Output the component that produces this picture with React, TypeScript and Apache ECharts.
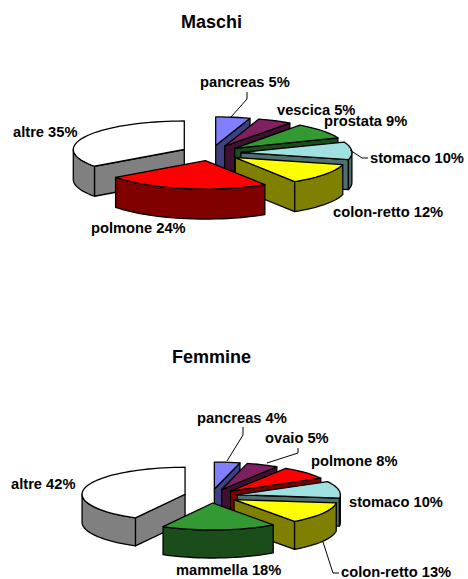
import React, { useEffect, useRef } from "react";
import * as echarts from "echarts";

const maleNames = ["pancreas", "vescica", "prostata", "stomaco", "colon-retto", "polmone", "altre"];
const maleValues = [5, 5, 9, 10, 12, 24, 35];
const femaleNames = ["pancreas", "ovaio", "polmone", "stomaco", "colon-retto", "mammella", "altre"];
const femaleValues = [4, 5, 8, 10, 13, 18, 42];

const maleTop = ["#8080FF", "#802060", "#339933", "#A0E0E0", "#FFFF00", "#FF0000", "#FFFFFF"];
const maleSide = ["#404080", "#401030", "#1A4D1A", "#507070", "#808000", "#800000", "#808080"];
const femaleTop = ["#8080FF", "#802060", "#FF0000", "#A0E0E0", "#FFFF00", "#339933", "#FFFFFF"];
const femaleSide = ["#404080", "#401030", "#800000", "#507070", "#808000", "#1A4D1A", "#808080"];

const maleGeom = { cx: 211, cy: 153, rx: 111, ry: 28.5, depth: 30, explode: 0.27 };
const femaleGeom = { cx: 211, cy: 496, rx: 103, ry: 27, depth: 28, explode: 0.26 };

const maleLabelPos = [[200, 82], [277, 110], [324, 121], [370, 158], [333, 212], [91, 228], [13, 132]];
const femaleLabelPos = [[197, 418], [265, 438], [311, 461], [349, 502], [341, 572], [176, 570], [11, 484]];

const maleLeaders = [
  [[247, 92], [247, 99], [231, 117]],
  [[350, 150], [362, 158], [368, 158]],
];
const femaleLeaders = [
  [[243, 427], [243, 435], [227, 461]],
  [[298, 448], [298, 453], [267, 463]],
  [[323, 542], [333, 573], [339, 573]],
];

const FONT = "bold 14px 'Liberation Sans', Arial, sans-serif";
const LABEL_STRETCH = 1.05;
const rad = (d: number) => (d * Math.PI) / 180;

function buildSeries(names: string[], values: number[], top: string[], side: string[], g: any, labelPos: number[][], leaders: number[][][]) {
  const total = values.reduce((a, b) => a + b, 0);
  let acc = 0;
  const slices = values.map((v, i) => {
    const a = (acc / total) * 360;
    acc += v;
    const b = (acc / total) * 360;
    return { i, a, b, mid: (a + b) / 2 };
  });
  const order = [...slices].sort((p, q) => Math.cos(rad(q.mid)) - Math.cos(rad(p.mid)));

  const renderItem = (params: any, api: any) => {
    const idx = api.value(0) as number;
    const s = slices[idx];
    const ox = g.cx + g.explode * g.rx * Math.sin(rad(s.mid));
    const oy = g.cy - g.explode * g.ry * Math.cos(rad(s.mid));
    const pt = (t: number, dz = 0) => [ox + g.rx * Math.sin(rad(t)), oy - g.ry * Math.cos(rad(t)) + dz];
    const arc = (from: number, to: number, dz = 0) => {
      const out: number[][] = [];
      const n = Math.max(2, Math.ceil((to - from) / 3));
      for (let k = 0; k <= n; k++) out.push(pt(from + ((to - from) * k) / n, dz));
      return out;
    };
    const styleOf = (fill: string) => ({ fill, stroke: "#000", lineWidth: 1.3, lineJoin: "round" });
    const poly = (points: number[][], fill: string) => ({ type: "polygon", shape: { points }, style: styleOf(fill) });
    const children: any[] = [];
    if (Math.sin(rad(s.a)) < 0) {
      children.push(poly([[ox, oy], pt(s.a), pt(s.a, g.depth), [ox, oy + g.depth]], side[idx]));
    }
    if (Math.sin(rad(s.b)) > 0) {
      children.push(poly([[ox, oy], pt(s.b), pt(s.b, g.depth), [ox, oy + g.depth]], side[idx]));
    }
    const from = Math.max(s.a, 90);
    const to = Math.min(s.b, 270);
    if (to > from) {
      children.push(poly([...arc(from, to), ...arc(from, to, g.depth).reverse()], side[idx]));
    }
    children.push(poly([[ox, oy], ...arc(s.a, s.b)], top[idx]));
    return { type: "group", children };
  };

  const pieSeries = {
    type: "custom",
    coordinateSystem: "none",
    silent: true,
    animation: false,
    data: order.map((s) => [s.i, values[s.i]]),
    renderItem,
    z: 2,
  };

  const labelSeries = {
    type: "custom",
    coordinateSystem: "none",
    silent: true,
    animation: false,
    data: names.map((_, i) => [i]),
    renderItem: (params: any, api: any) => {
      const i = api.value(0) as number;
      return {
        type: "text",
        x: labelPos[i][0],
        y: labelPos[i][1],
        scaleX: LABEL_STRETCH,
        style: {
          text: `${names[i]} ${values[i]}%`,
          font: FONT,
          fill: "#000",
          textAlign: "left",
          textVerticalAlign: "middle",
        },
      };
    },
    z: 4,
  };

  const leaderSeries = {
    type: "custom",
    coordinateSystem: "none",
    silent: true,
    animation: false,
    data: leaders.map((_, i) => [i]),
    renderItem: (params: any, api: any) => ({
      type: "polyline",
      shape: { points: leaders[api.value(0) as number] },
      style: { stroke: "#000", lineWidth: 1, fill: "none" },
    }),
    z: 3,
  };
  return [pieSeries, leaderSeries, labelSeries];
}

export default function App() {
  const ref = useRef<HTMLDivElement>(null);
  useEffect(() => {
    document.body.style.margin = "0";
    const chart = echarts.init(ref.current!, undefined, { renderer: "svg" });
    const titleStyle = { fontFamily: "'Liberation Sans', Arial, sans-serif", fontWeight: "bold", fontSize: 18, color: "#000" };
    chart.setOption({
      animation: false,
      backgroundColor: "#fff",
      title: [
        { text: "Maschi", left: 176, top: 8, textStyle: titleStyle },
        { text: "Femmine", left: 167, top: 343, textStyle: titleStyle },
      ],
      series: [
        ...buildSeries(maleNames, maleValues, maleTop, maleSide, maleGeom, maleLabelPos, maleLeaders),
        ...buildSeries(femaleNames, femaleValues, femaleTop, femaleSide, femaleGeom, femaleLabelPos, femaleLeaders),
      ],
    });
    return () => chart.dispose();
  }, []);
  return <div ref={ref} style={{ width: 468, height: 579, position: "absolute", left: 0, top: 0 }} />;
}
